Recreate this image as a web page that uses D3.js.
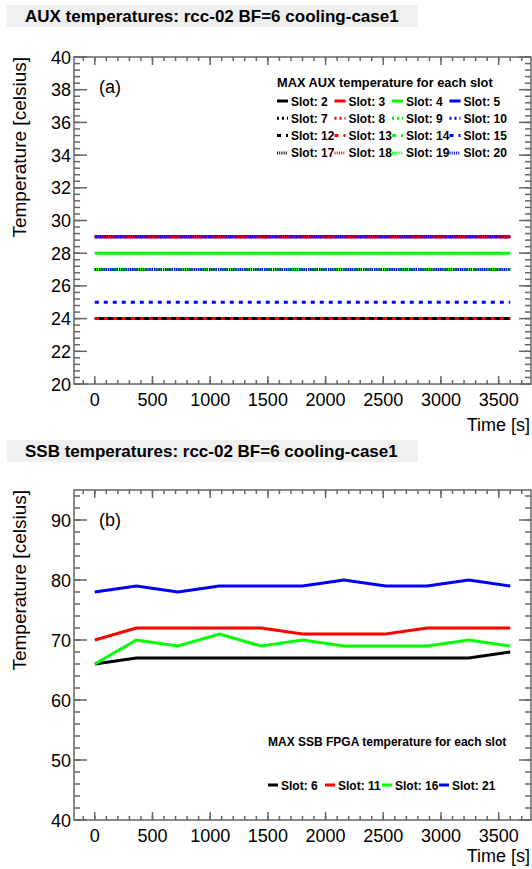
<!DOCTYPE html>
<html>
<head>
<meta charset="utf-8">
<script src="https://cdn.jsdelivr.net/npm/d3@7"></script>
<style>
  body { margin: 0; background: #fff; }
  svg { display: block; font-family: "Liberation Sans", Arial, sans-serif; }
</style>
</head>
<body>
<svg id="canvas" width="532" height="869"></svg>
<script>
// sample times [s]
let times = [0, 360, 720, 1080, 1440, 1800, 2160, 2520, 2880, 3240, 3600];

// panel (a): max AUX temperature per slot (flat over the run)
let auxSlots = [2, 3, 4, 5, 7, 8, 9, 10, 12, 13, 14, 15, 17, 18, 19, 20];
let auxTemps = [24, 29, 28, 29, 27, 29, 27, 29, 24, 24, 27, 25, 27, 29, 27, 27];

// panel (b): max SSB FPGA temperature per slot
let ssbSlots = [6, 11, 16, 21];
let ssbSlot6 = [66, 67, 67, 67, 67, 67, 67, 67, 67, 67, 68];
let ssbSlot11 = [70, 72, 72, 72, 72, 71, 71, 71, 72, 72, 72];
let ssbSlot16 = [66, 70, 69, 71, 69, 70, 69, 69, 69, 70, 69];
let ssbSlot21 = [78, 79, 78, 79, 79, 79, 80, 79, 79, 80, 79];

let xTicks = [0, 500, 1000, 1500, 2000, 2500, 3000, 3500];
let auxYTicks = [20, 22, 24, 26, 28, 30, 32, 34, 36, 38, 40];
let ssbYTicks = [40, 50, 60, 70, 80, 90];

let colors = ['black', 'red', '#00ff00', 'blue'];
let dashes = [null, '2,3', '4,5', '1,1.2'];

let svg = d3.select('#canvas');
let left = 74, right = 531;
let x = d3.scaleLinear().domain([-180, 3780]).range([left, right]);

let drawTitle = (y, label) => {
  svg.append('rect').attr('x', 7).attr('y', y).attr('width', 411).attr('height', 22).attr('fill', '#efefef');
  svg.append('text').attr('x', 25).attr('y', y + 17).attr('font-size', 17).attr('font-weight', 'bold').text(label);
};

let drawFrame = (y, top, bottom, yTicks, yMinorStep, tag, timeY) => {
  let xMinor = d3.range(-100, 3780, 100);
  let [y0, y1] = y.domain();
  let yMinor = d3.range(y0, y1 + 1e-6, yMinorStep);
  let ticks = svg.append('g');

  let seg = (x1, y1, x2, y2) => {
    ticks.append('line').attr('x1', x1).attr('y1', y1).attr('x2', x2).attr('y2', y2)
      .attr('stroke', '#666').attr('stroke-width', 1.5);
  };
  let vTick = (v, len) => {
    let px = x(v);
    seg(px, bottom, px, bottom - len);
    seg(px, top, px, top + len);
  };
  let hTick = (v, lenL, lenR) => {
    let py = y(v);
    seg(left, py, left + lenL, py);
    seg(right, py, right - lenR, py);
  };
  xMinor.forEach(v => vTick(v, 4));
  xTicks.forEach(v => vTick(v, 8));
  yMinor.forEach(v => hTick(v, 6, 6));
  yTicks.forEach(v => hTick(v, 13, 12));

  svg.append('g').selectAll('text').data(xTicks).enter().append('text')
    .attr('x', d => x(d)).attr('y', bottom + 22).attr('text-anchor', 'middle')
    .attr('font-size', 18).text(d => d);
  svg.append('g').selectAll('text').data(yTicks).enter().append('text')
    .attr('x', left - 3).attr('y', d => y(d) + 6.5).attr('text-anchor', 'end')
    .attr('font-size', 18).text(d => d);

  svg.append('rect').attr('x', left).attr('y', top).attr('width', right - left).attr('height', bottom - top)
    .attr('fill', 'none').attr('stroke', '#666').attr('stroke-width', 1.5);

  svg.append('text').attr('transform', 'translate(26,' + top + ') rotate(-90)')
    .attr('text-anchor', 'end').attr('font-size', 19).text('Temperature [celsius]');
  svg.append('text').attr('x', 530).attr('y', timeY).attr('text-anchor', 'end')
    .attr('font-size', 18).text('Time [s]');
  svg.append('text').attr('x', 99).attr('y', top + 36).attr('font-size', 18).text(tag);
};

let line = (y) => d3.line().x((d, i) => x(times[i])).y(d => y(d));

// ---------- panel (a)
drawTitle(5, 'AUX temperatures: rcc-02 BF=6 cooling-case1');
let yA = d3.scaleLinear().domain([20, 40]).range([384, 57]);
drawFrame(yA, 57, 384, auxYTicks, 0.4, '(a)', 431);

auxSlots.forEach((slot, k) => {
  let vals = times.map(() => auxTemps[k]);
  svg.append('path').datum(vals).attr('d', line(yA))
    .attr('fill', 'none').attr('stroke', colors[k % 4]).attr('stroke-width', 3)
    .attr('stroke-dasharray', dashes[Math.floor(k / 4)]);
});

svg.append('text').attr('x', 277).attr('y', 87).attr('font-size', 12.8).attr('font-weight', 'bold')
  .text('MAX AUX temperature for each slot');
auxSlots.forEach((slot, k) => {
  let cx = 277 + (k % 4) * 57.5;
  let cy = 101 + Math.floor(k / 4) * 17.3;
  svg.append('line').attr('x1', cx).attr('x2', cx + 11).attr('y1', cy).attr('y2', cy)
    .attr('stroke', colors[k % 4]).attr('stroke-width', 3).attr('stroke-dasharray', dashes[Math.floor(k / 4)]);
  svg.append('text').attr('x', cx + 14).attr('y', cy + 4.5).attr('font-size', 12).attr('font-weight', 'bold')
    .text('Slot: ' + slot);
});

// ---------- panel (b)
drawTitle(440, 'SSB temperatures: rcc-02 BF=6 cooling-case1');
let yB = d3.scaleLinear().domain([40, 95]).range([820, 490]);
drawFrame(yB, 490, 820, ssbYTicks, 2, '(b)', 862);

let ssbSeries = [ssbSlot6, ssbSlot11, ssbSlot16, ssbSlot21];
ssbSeries.forEach((vals, k) => {
  svg.append('path').datum(vals).attr('d', line(yB))
    .attr('fill', 'none').attr('stroke', colors[k]).attr('stroke-width', 3);
});

svg.append('text').attr('x', 268).attr('y', 746).attr('font-size', 12).attr('font-weight', 'bold')
  .text('MAX SSB FPGA temperature for each slot');
ssbSlots.forEach((slot, k) => {
  let cx = 268 + k * 57;
  let cy = 785;
  svg.append('line').attr('x1', cx).attr('x2', cx + 10).attr('y1', cy).attr('y2', cy)
    .attr('stroke', colors[k]).attr('stroke-width', 3);
  svg.append('text').attr('x', cx + 13).attr('y', cy + 4.5).attr('font-size', 12).attr('font-weight', 'bold')
    .text('Slot: ' + slot);
});
</script>
</body>
</html>
